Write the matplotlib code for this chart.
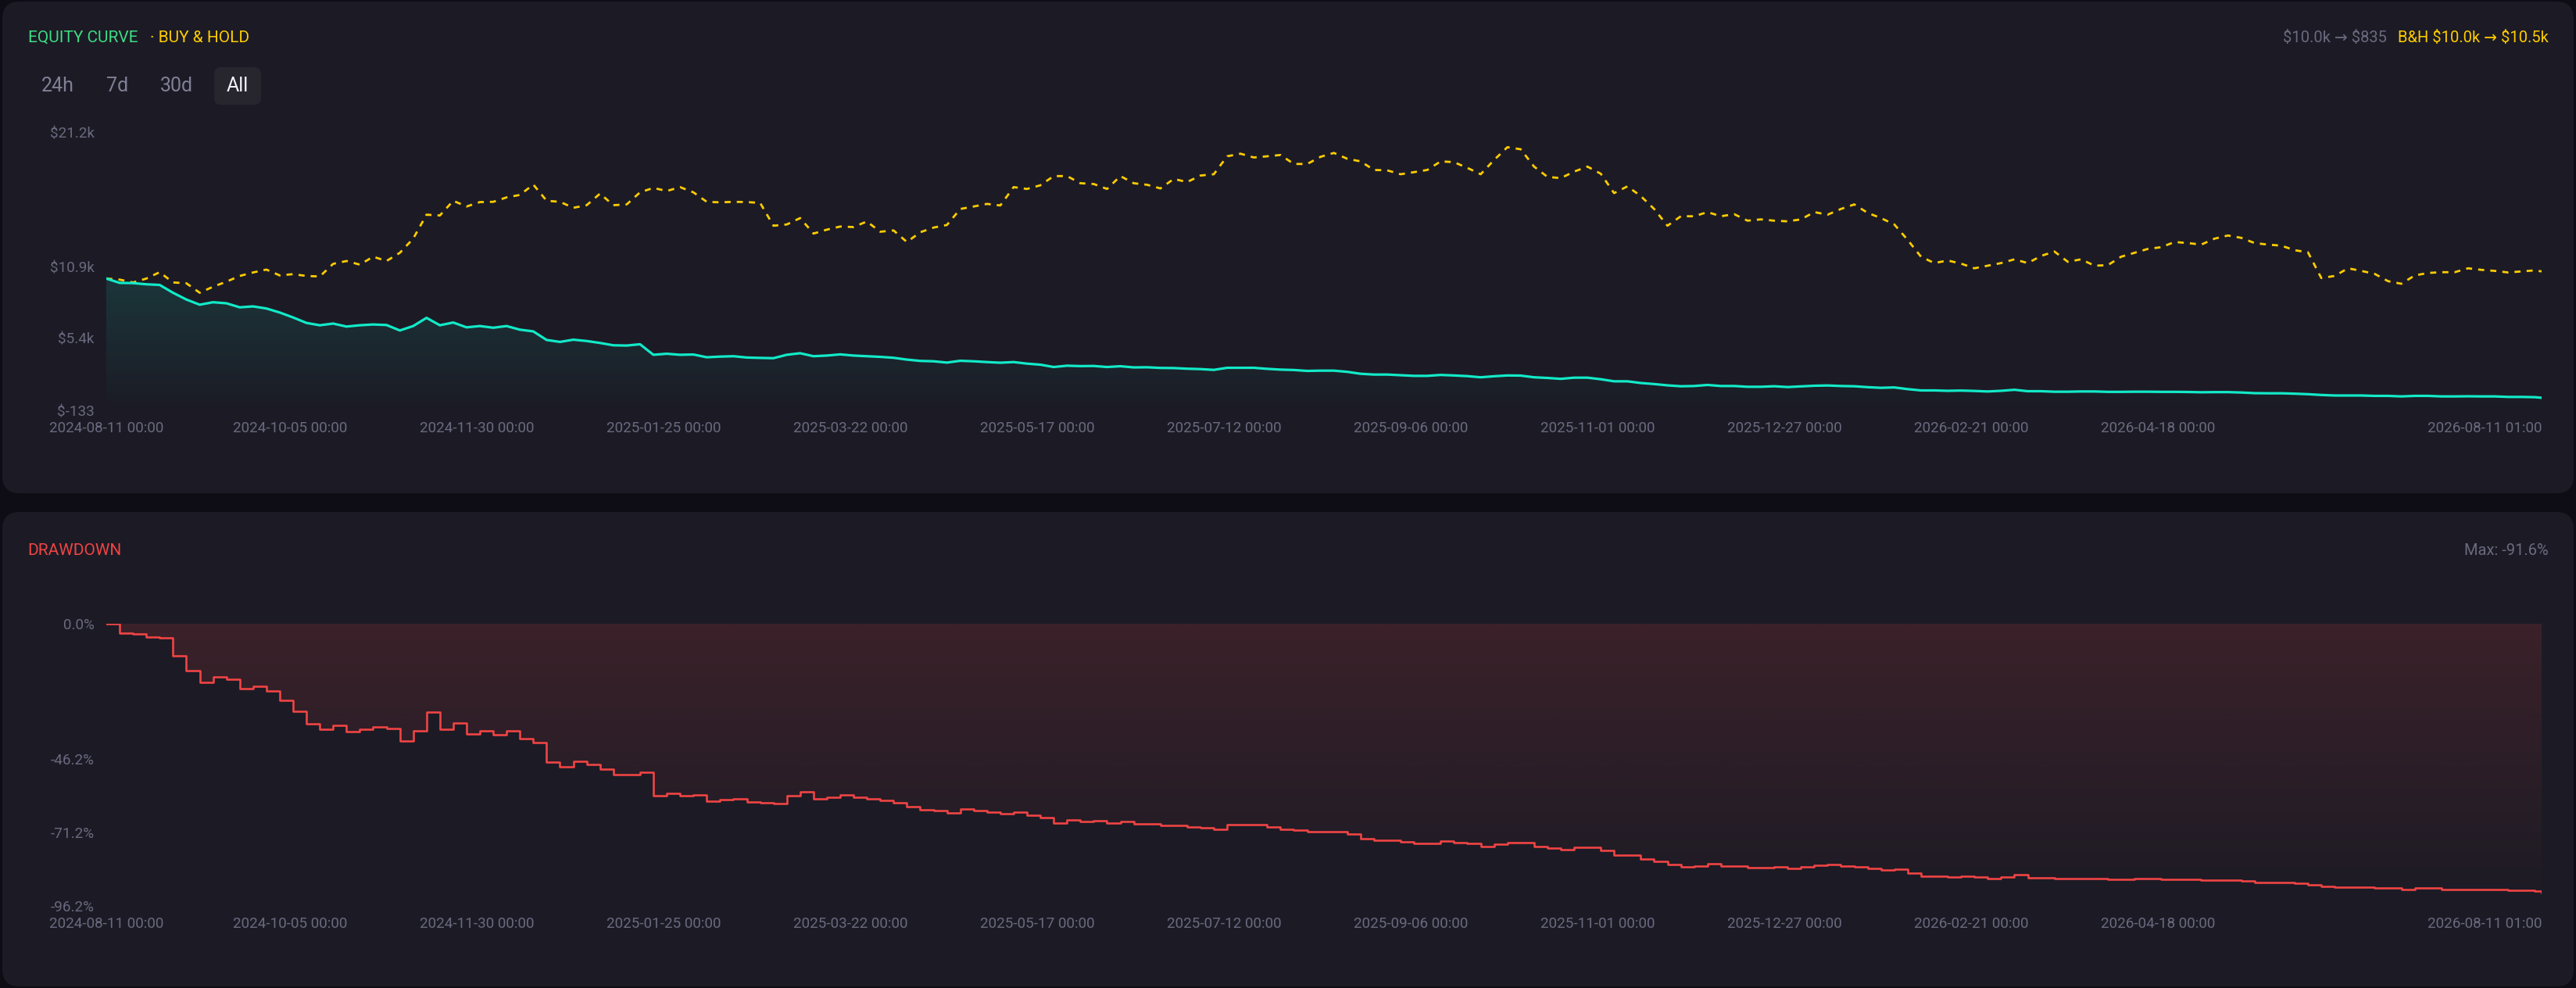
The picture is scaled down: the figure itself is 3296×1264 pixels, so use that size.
import numpy as np
import pandas as pd
import matplotlib
matplotlib.use("Agg")
import matplotlib.pyplot as plt
from matplotlib.patches import FancyBboxPatch
from matplotlib.transforms import IdentityTransform
from matplotlib.colors import to_rgb

# data: one sample every 4 days, last point is 2026-08-11 01:00
dates = list(pd.date_range("2024-08-11", periods=183, freq="4D")) + [pd.Timestamp("2026-08-11 01:00")]

equity_k = [
    10.00, 9.67, 9.65, 9.56, 9.51, 8.91, 8.39, 7.99, 8.18, 8.10, 7.79, 7.86, 7.70, 7.39, 7.01, 6.59,
    6.41, 6.54, 6.31, 6.41, 6.47, 6.43, 6.01, 6.35, 6.98, 6.41, 6.62, 6.25, 6.35, 6.22, 6.35, 6.07,
    5.94, 5.28, 5.13, 5.30, 5.20, 5.05, 4.87, 4.85, 4.95, 4.14, 4.22, 4.14, 4.16, 3.95, 4.00, 4.03,
    3.93, 3.90, 3.88, 4.14, 4.26, 4.03, 4.08, 4.17, 4.08,
    4.03, 3.98, 3.91, 3.77, 3.67, 3.64, 3.54, 3.68, 3.64, 3.58, 3.53, 3.58, 3.46, 3.38, 3.20, 3.30,
    3.27, 3.28, 3.20, 3.26, 3.17, 3.18, 3.13, 3.12, 3.07, 3.04, 2.98, 3.14, 3.14, 3.14, 3.06, 3.00,
    2.97, 2.90, 2.92, 2.92, 2.83, 2.68, 2.62, 2.62, 2.57, 2.52, 2.52, 2.59, 2.55, 2.50, 2.41, 2.49,
    2.55, 2.54, 2.41, 2.36, 2.29, 2.38, 2.38, 2.26, 2.10, 2.10, 1.97, 1.89, 1.79, 1.72, 1.74, 1.82,
    1.74, 1.74, 1.68, 1.68, 1.72, 1.66, 1.71, 1.76, 1.78, 1.74, 1.72, 1.65, 1.60, 1.63, 1.50, 1.40,
    1.40, 1.37, 1.39, 1.36, 1.32, 1.37, 1.45, 1.34, 1.34, 1.30, 1.30, 1.32, 1.32, 1.29, 1.29, 1.30,
    1.30, 1.29, 1.29, 1.28, 1.26, 1.27, 1.27, 1.24, 1.19, 1.18, 1.18, 1.15, 1.11, 1.05, 1.01, 1.01,
    1.01, 0.98, 0.98, 0.94, 0.98, 0.98, 0.94, 0.94, 0.95, 0.94, 0.94, 0.90, 0.90, 0.88, 0.835,
]

bh_k = [
    10.00, 9.92, 9.70, 10.00, 10.49, 9.70, 9.64, 8.91, 9.37, 9.76, 10.20, 10.47, 10.69, 10.24, 10.34, 10.20,
    10.16, 11.13, 11.35, 11.07, 11.68, 11.35, 11.98, 13.07, 14.91, 14.85, 15.98, 15.54, 15.88, 15.90, 16.24, 16.43,
    17.23, 15.98, 15.90, 15.44, 15.64, 16.53, 15.64, 15.70, 16.63, 16.97, 16.73, 17.03, 16.63, 15.90, 15.86, 15.90,
    15.88, 15.82, 14.06, 14.16, 14.65, 13.46, 13.76, 14.00, 13.96, 14.39, 13.60, 13.70, 12.81, 13.56, 13.92,
    14.12, 15.35, 15.54, 15.74, 15.62, 17.03, 16.89, 17.17, 17.88, 17.88, 17.33, 17.27, 16.89, 17.88, 17.33, 17.21,
    16.93, 17.66, 17.42, 17.92, 18.02, 19.40, 19.60, 19.31, 19.40, 19.50, 18.81, 18.81, 19.36, 19.66, 19.21, 19.01,
    18.35, 18.32, 18.02, 18.18, 18.35, 19.01, 18.95, 18.51, 18.02, 19.11, 20.10, 19.94, 18.61, 17.82, 17.72, 18.22,
    18.61, 18.06, 16.57, 17.09, 16.34, 15.35, 14.06, 14.79, 14.79, 15.11,
    14.79, 14.95, 14.45, 14.55, 14.45, 14.40, 14.55, 15.11, 14.91, 15.35, 15.70, 15.05, 14.65, 14.16, 12.97, 11.68,
    11.19, 11.39, 11.15, 10.79, 10.99, 11.19, 11.48, 11.19, 11.74, 12.08, 11.29, 11.48, 10.99, 11.03, 11.68, 11.98,
    12.28, 12.41, 12.81, 12.73, 12.61, 13.07, 13.31, 13.13, 12.73, 12.61, 12.53, 12.18, 12.02, 10.04, 10.20, 10.79,
    10.59, 10.36, 9.80, 9.60, 10.24, 10.43, 10.49, 10.49, 10.79, 10.67, 10.59, 10.47, 10.55, 10.63, 10.55,
]

drawdown_pct = [
    0.0, -3.3, -3.5, -4.4, -4.9, -10.9, -16.1, -20.1, -18.2, -19.0, -22.1, -21.4, -23.0, -26.1, -29.9, -34.1,
    -35.9, -34.6, -36.9, -35.9, -35.3, -35.7, -39.9, -36.5, -30.2, -35.9, -33.8, -37.5, -36.5, -37.8, -36.5, -39.3,
    -40.6, -47.2, -48.7, -47.0, -48.0, -49.5, -51.3, -51.5, -50.5, -58.6, -57.8, -58.6, -58.4, -60.5, -60.0, -59.7,
    -60.7, -61.0, -61.2, -58.6, -57.4, -59.7, -59.2, -58.3, -59.2,
    -59.7, -60.2, -60.9, -62.3, -63.3, -63.6, -64.6, -63.2, -63.6, -64.2, -64.7, -64.2, -65.4, -66.2, -68.0, -67.0,
    -67.3, -67.2, -68.0, -67.4, -68.3, -68.2, -68.7, -68.8, -69.3, -69.6, -70.2, -68.6, -68.6, -68.6, -69.4, -70.0,
    -70.3, -71.0, -70.8, -70.8, -71.7, -73.2, -73.8, -73.8, -74.3, -74.8, -74.8, -74.1, -74.5, -75.0, -75.9, -75.1,
    -74.5, -74.6, -75.9, -76.4, -77.1, -76.2, -76.2, -77.4, -79.0, -79.0, -80.3, -81.1, -82.1, -82.8, -82.6, -81.8,
    -82.6, -82.6, -83.2, -83.2, -82.8, -83.4, -82.9, -82.4, -82.2, -82.6, -82.8, -83.5, -84.0, -83.7, -85.0, -86.0,
    -86.0, -86.3, -86.1, -86.4, -86.8, -86.3, -85.5, -86.6, -86.6, -87.0, -87.0, -86.8, -86.8, -87.1, -87.1, -87.0,
    -87.0, -87.1, -87.1, -87.2, -87.4, -87.3, -87.3, -87.6, -88.1, -88.2, -88.2, -88.5, -88.9, -89.5, -89.9, -89.9,
    -89.9, -90.2, -90.2, -90.6, -90.2, -90.2, -90.6, -90.6, -90.5, -90.6, -90.6, -91.0, -91.0, -91.2, -91.6,
]

tick_dates = ["2024-08-11", "2024-10-05", "2024-11-30", "2025-01-25", "2025-03-22", "2025-05-17",
              "2025-07-12", "2025-09-06", "2025-11-01", "2025-12-27", "2026-02-21", "2026-04-18",
              "2026-08-11 01:00"]
tick_labels = ["2024-08-11 00:00", "2024-10-05 00:00", "2024-11-30 00:00", "2025-01-25 00:00",
               "2025-03-22 00:00", "2025-05-17 00:00", "2025-07-12 00:00", "2025-09-06 00:00",
               "2025-11-01 00:00", "2025-12-27 00:00", "2026-02-21 00:00", "2026-04-18 00:00",
               "2026-08-11 01:00"]
eq_ticks = [-0.133, 5.4, 10.9, 21.2]
eq_tick_labels = ["$-133", "$5.4k", "$10.9k", "$21.2k"]
dd_ticks = [-96.2, -71.2, -46.2, 0.0]
dd_tick_labels = ["-96.2%", "-71.2%", "-46.2%", "0.0%"]

# colours
BG = "#0e0d16"
CARD = "#1c1b25"
TEAL = "#12eac8"
GOLD = "#ffcc00"
RED = "#ef4444"
GREEN = "#3ddc84"
MUTED = "#6a697f"

plt.rcParams['font.family'] = ['Roboto', 'DejaVu Sans']
plt.rcParams['text.parse_math'] = False

W, H = 3296, 1264
fig = plt.figure(figsize=(W / 100, H / 100), dpi=100, facecolor=BG)


def px(x, y):
    # pixel position measured from the top-left -> figure fraction
    return x / W, 1 - y / H


def card(x0, y0, x1, y1, color=CARD, r=22):
    p = FancyBboxPatch((x0, H - y1), x1 - x0, y1 - y0,
                       boxstyle=f"round,pad=0,rounding_size={r}",
                       transform=IdentityTransform(), facecolor=color, edgecolor="none", zorder=-10)
    fig.patches.append(p)


card(3, 2, 3293, 631)
card(3, 655, 3293, 1262)


def gradient_fill(ax, x, y, base, color, a_top, a_bot, step=None):
    coll = ax.fill_between(x, y, base, step=step, facecolor="none", edgecolor="none")
    x0, x1 = ax.get_xlim()
    y0, y1 = ax.get_ylim()
    grad = np.zeros((256, 1, 4))
    grad[..., :3] = to_rgb(color)
    grad[..., 3] = np.linspace(a_top, a_bot, 256)[:, None]
    im = ax.imshow(grad, extent=[x0, x1, y0, y1], origin="upper", aspect="auto", zorder=1)
    im.set_clip_path(coll.get_paths()[0], transform=ax.transData)
    ax.set_xlim(x0, x1)
    ax.set_ylim(y0, y1)


def style_axes(ax, yticks, ylabels, pad_x):
    ax.set_facecolor("none")
    for s in ax.spines.values():
        s.set_visible(False)
    ax.set_xlim(dates[0], dates[-1])
    ax.set_xticks([pd.Timestamp(d) for d in tick_dates])
    ax.set_xticklabels(tick_labels)
    ax.get_xticklabels()[-1].set_ha("right")
    ax.set_yticks(yticks)
    ax.set_yticklabels(ylabels)
    ax.tick_params(length=0, labelsize=13.6, labelcolor=MUTED)
    ax.tick_params(axis="x", pad=pad_x)
    ax.tick_params(axis="y", pad=11)


# equity panel
l, b = px(136, 525)
_, t = px(0, 170)
ax1 = fig.add_axes([l, b, 3252 / W - l, t - b])
ax1.set_ylim(-0.133, 21.2)
style_axes(ax1, eq_ticks, eq_tick_labels, 10)
gradient_fill(ax1, dates, equity_k, -0.133, TEAL, 0.28, 0.0)
ax1.plot(dates, bh_k, color=GOLD, lw=2.0, dashes=(2.8, 2.8), zorder=3)
ax1.plot(dates, equity_k, color=TEAL, lw=2.3, zorder=4)

# drawdown panel
l, b = px(136, 1159)
_, t = px(0, 798)
ax2 = fig.add_axes([l, b, 3252 / W - l, t - b])
ax2.set_ylim(-96.2, 0)
style_axes(ax2, dd_ticks, dd_tick_labels, 10)
gradient_fill(ax2, dates, drawdown_pct, 0, RED, 0.15, 0.0, step="post")
ax2.step(dates, drawdown_pct, where="post", color=RED, lw=1.9, zorder=4)

# header texts
fig.text(*px(36, 48), "EQUITY CURVE", color=GREEN, fontsize=15, va="center")
fig.text(*px(192, 48), "· BUY & HOLD", color=GOLD, fontsize=15, va="center")
fig.text(*px(3054, 48), "$10.0k → $835", color=MUTED, fontsize=14.5, va="center", ha="right")
fig.text(*px(3261, 48), "B&H $10.0k → $10.5k", color=GOLD, fontsize=14.5, va="center", ha="right")

card(274, 86, 334, 134, color="#27262f", r=9)
for label, cx in zip(["24h", "7d", "30d", "All"], [74, 150, 226, 304]):
    col = "#f2f2f7" if label == "All" else "#807f96"
    fig.text(*px(cx, 110), label, color=col, fontsize=18, ha="center", va="center")

fig.text(*px(35, 704), "DRAWDOWN", color=RED, fontsize=15, va="center")
fig.text(*px(3261, 704), "Max: -91.6%", color=MUTED, fontsize=14.5, va="center", ha="right")

fig.savefig("out.png", dpi=100, facecolor=BG)
